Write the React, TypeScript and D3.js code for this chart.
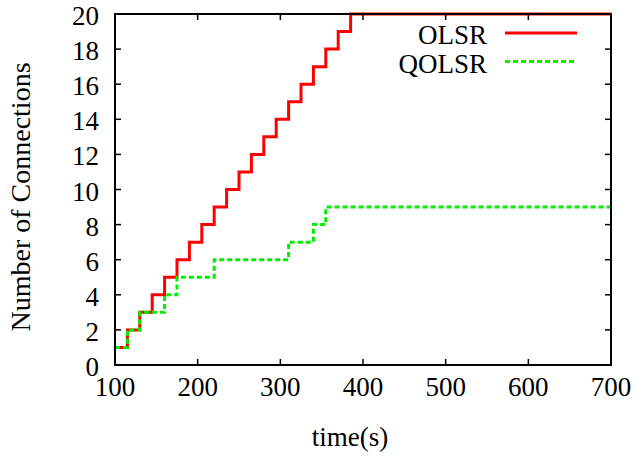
import React, {useEffect, useRef} from 'react';
import * as d3 from 'd3';

const olsrTimes = [100, 115, 130, 145, 160, 175, 190, 205, 220, 235, 250, 265, 280, 295, 310, 325, 340, 355, 370, 385, 700];
const olsrValues = [1, 2, 3, 4, 5, 6, 7, 8, 9, 10, 11, 12, 13, 14, 15, 16, 17, 18, 19, 20, 20];
const qolsrTimes = [100, 115, 130, 160, 175, 220, 310, 340, 355, 700];
const qolsrValues = [1, 2, 3, 4, 5, 6, 7, 8, 9, 9];
const xTicks = [100, 200, 300, 400, 500, 600, 700];
const yTicks = [0, 2, 4, 6, 8, 10, 12, 14, 16, 18, 20];

const width = 637;
const height = 457;
const plot = {left: 115, right: 611, top: 14, bottom: 365};
const font = '"Liberation Serif", "Times New Roman", serif';

export default function App() {
    const ref = useRef<SVGSVGElement>(null);

    useEffect(() => {
        const svg = d3.select(ref.current);
        svg.selectAll('*').remove();

        const x = d3.scaleLinear().domain([100, 700]).range([plot.left, plot.right]);
        const y = d3.scaleLinear().domain([0, 20]).range([plot.bottom, plot.top]);
        const tickLen = 6;

        const line = d3.line<number>()
            .x(d => x(d))
            .curve(d3.curveStepAfter);

        svg.append('path')
            .attr('d', line.y((d, i) => y(olsrValues[i]))(olsrTimes))
            .attr('fill', 'none')
            .attr('stroke', '#ff0000')
            .attr('stroke-width', 3);

        svg.append('path')
            .attr('d', line.y((d, i) => y(qolsrValues[i]))(qolsrTimes))
            .attr('fill', 'none')
            .attr('stroke', '#00ee00')
            .attr('stroke-width', 3)
            .attr('stroke-dasharray', '5,3');

        // ticks on all four sides, pointing inwards
        const g = svg.append('g').attr('stroke', '#000').attr('stroke-width', 1.5);
        xTicks.forEach(t => {
            g.append('line').attr('x1', x(t)).attr('x2', x(t)).attr('y1', plot.bottom).attr('y2', plot.bottom - tickLen);
            g.append('line').attr('x1', x(t)).attr('x2', x(t)).attr('y1', plot.top).attr('y2', plot.top + tickLen);
        });
        yTicks.forEach(t => {
            g.append('line').attr('x1', plot.left).attr('x2', plot.left + tickLen).attr('y1', y(t)).attr('y2', y(t));
            g.append('line').attr('x1', plot.right).attr('x2', plot.right - tickLen).attr('y1', y(t)).attr('y2', y(t));
        });

        svg.append('rect')
            .attr('x', plot.left)
            .attr('y', plot.top)
            .attr('width', plot.right - plot.left)
            .attr('height', plot.bottom - plot.top)
            .attr('fill', 'none')
            .attr('stroke', '#000')
            .attr('stroke-width', 2);

        svg.selectAll('text.xtick')
            .data(xTicks)
            .enter()
            .append('text')
            .attr('class', 'xtick')
            .attr('x', d => x(d))
            .attr('y', 396)
            .attr('text-anchor', 'middle')
            .text(d => d);

        svg.selectAll('text.ytick')
            .data(yTicks)
            .enter()
            .append('text')
            .attr('class', 'ytick')
            .attr('x', 99)
            .attr('y', d => y(d) + 11)
            .attr('text-anchor', 'end')
            .text(d => d);

        svg.append('text')
            .attr('x', 350)
            .attr('y', 446)
            .attr('text-anchor', 'middle')
            .text('time(s)');

        svg.append('text')
            .attr('transform', 'translate(30,197) rotate(-90)')
            .attr('text-anchor', 'middle')
            .style('font-size', '28px')
            .text('Number of Connections');

        // legend
        const legend = [
            {name: 'OLSR', color: '#ff0000', dash: null, y: 33},
            {name: 'QOLSR', color: '#00ee00', dash: '5,3', y: 61.5}
        ];
        legend.forEach(l => {
            svg.append('text')
                .attr('x', 487)
                .attr('y', l.y + 11)
                .attr('text-anchor', 'end')
                .text(l.name);
            svg.append('line')
                .attr('x1', 505)
                .attr('x2', 577)
                .attr('y1', l.y)
                .attr('y2', l.y)
                .attr('stroke', l.color)
                .attr('stroke-width', 3)
                .attr('stroke-dasharray', l.dash);
        });
    }, []);

    return (
        <svg
            ref={ref}
            width={width}
            height={height}
            style={{position: 'absolute', left: 0, top: 0, background: '#fff', fontFamily: font, fontSize: 27}}
        />
    );
}
